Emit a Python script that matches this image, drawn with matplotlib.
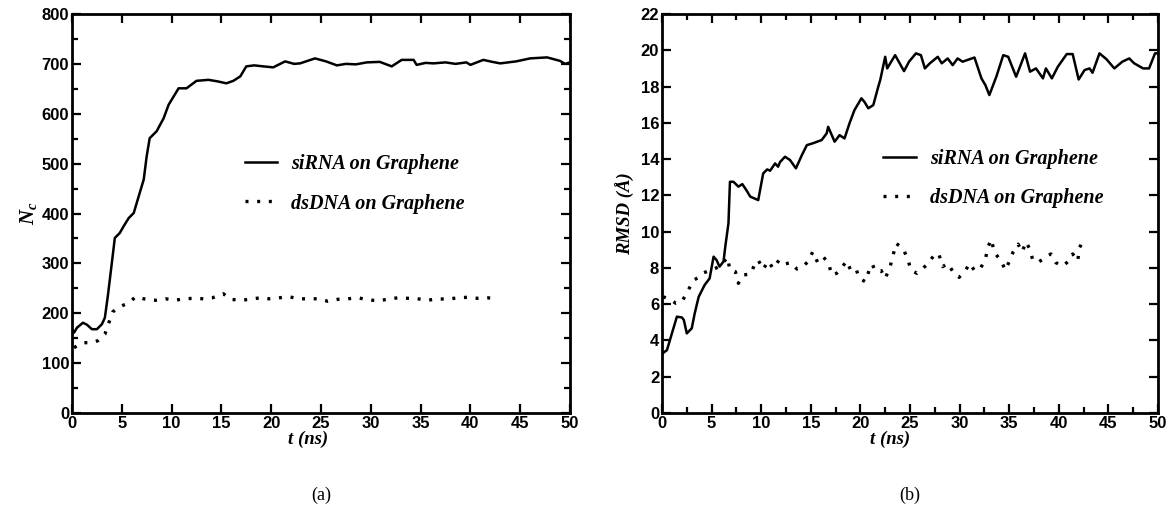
import matplotlib
matplotlib.use("Agg")
import matplotlib.pyplot as plt
from matplotlib.ticker import MultipleLocator
from matplotlib.font_manager import FontProperties

# ---------------- data ----------------
# (a) number of contacts N_c vs t (ns)
t_nc_sirna = [0.0, 0.2, 0.5, 1.1, 1.5, 2.0, 2.5, 3.0, 3.3, 3.6, 4.0, 4.3, 4.8, 5.2, 5.7, 6.2, 6.6,
              7.2, 7.5, 7.8, 8.5, 9.2, 9.7, 10.7, 11.5, 12.5, 13.7, 14.6, 15.5, 16.2, 16.9, 17.5,
              18.3, 19.2, 20.2, 21.4, 22.3, 22.9, 24.4, 25.5, 26.6, 27.5, 28.5, 29.6, 30.9, 32.1,
              33.1, 34.3, 34.6, 35.5, 36.3, 37.5, 38.5, 39.6, 40.0, 41.3, 42.2, 43.0, 44.6, 46.0,
              47.7, 49.0, 49.5, 50.0]
nc_sirna = [168, 161, 171, 181, 177, 168, 168, 178, 191, 235, 301, 351, 361, 375, 391, 401, 428,
            468, 515, 551, 565, 591, 618, 651, 651, 666, 668, 665, 661, 666, 675, 695,
            697, 695, 693, 705, 700, 701, 711, 705, 697, 700, 699, 703, 704, 695,
            708, 708, 698, 702, 701, 703, 700, 703, 698, 708, 704, 701, 705, 711,
            713, 706, 700, 703]

t_nc_dsdna = [0.2, 1.1, 2.0, 2.6, 3.3, 3.7, 4.1, 4.8, 5.7, 6.4, 7.4, 8.4, 9.4, 10.3, 11.3, 12.3,
              13.2, 14.1, 15.2, 15.9, 16.9, 17.9, 18.9, 19.8, 20.8, 21.8, 22.8, 23.7, 24.7, 25.7,
              26.7, 27.7, 28.7, 29.7, 30.7, 31.7, 32.7, 33.7, 34.7, 35.7, 36.7, 37.7, 38.7, 39.7,
              40.7, 41.7, 42.7]
nc_dsdna = [131, 141, 141, 145, 158, 181, 203, 213, 221, 233, 228, 226, 229, 226, 229, 230,
            229, 231, 239, 228, 226, 228, 231, 229, 231, 233, 229, 229, 229, 224,
            228, 229, 231, 227, 225, 228, 231, 230, 229, 226, 229, 228, 231, 232,
            230, 231, 229]

# (b) RMSD (Angstrom) vs t (ns)
t_rmsd_sirna = [0.07, 0.5, 1.0, 1.5, 2.0, 2.2, 2.5, 3.0, 3.3, 3.7, 4.3, 4.8, 5.2, 5.5, 5.8, 6.2,
                6.4, 6.7, 6.85, 7.2, 7.7, 8.1, 8.5, 8.9, 9.7, 10.2, 10.6, 10.9, 11.4, 11.7, 11.9,
                12.4, 12.9, 13.5, 14.1, 14.6, 15.2, 16.1, 16.6, 16.75, 17.4, 17.9, 18.4, 18.9,
                19.4, 20.1, 20.4, 20.8, 21.3, 21.8, 22.0, 22.5, 22.7, 23.5, 24.4, 24.9, 25.6,
                26.1, 26.5, 27.0, 27.8, 28.2, 28.8, 29.3, 29.8, 30.3, 31.5, 32.2, 32.6, 33.0,
                33.7, 34.4, 34.9, 35.7, 36.6, 37.1, 37.7, 38.4, 38.7, 39.3, 39.9, 40.8, 41.4,
                42.0, 42.6, 43.1, 43.4, 44.1, 44.8, 45.6, 46.4, 47.1, 47.6, 48.5, 49.1, 49.7, 50.0]
rmsd_sirna = [3.29, 3.47, 4.39, 5.31, 5.27, 5.13, 4.39, 4.67, 5.5, 6.41, 7.06, 7.42, 8.62, 8.43,
              8.07, 8.35, 9.26, 10.46, 12.75, 12.75, 12.48, 12.62, 12.29, 11.93, 11.74, 13.21,
              13.43, 13.36, 13.76, 13.58, 13.84, 14.13, 13.95, 13.49, 14.22, 14.77, 14.87,
              15.05, 15.42, 15.78, 14.96, 15.32, 15.14, 15.97, 16.7, 17.35, 17.16, 16.8, 16.98,
              17.99, 18.36, 19.64, 19.0, 19.73, 18.85, 19.37, 19.83, 19.73, 19.0, 19.28, 19.64,
              19.28, 19.55, 19.18, 19.55, 19.37, 19.6, 18.45, 18.08, 17.53, 18.54, 19.73,
              19.64, 18.54, 19.83, 18.82, 19.0, 18.45, 19.0, 18.45, 19.09, 19.79, 19.79,
              18.39, 18.91, 19.0, 18.76, 19.83, 19.51, 19.0, 19.37, 19.55, 19.28, 19.0, 19.0,
              19.83, 19.83]

t_rmsd_dsdna = [0.1, 0.8, 1.4, 2.0, 2.65, 3.2, 3.8, 4.2, 5.0, 5.8, 6.6, 6.85, 7.4, 7.7, 8.2, 8.9,
                9.4, 9.7, 10.2, 10.7, 11.2, 11.8, 12.3, 13.0, 13.6, 14.2, 14.7, 15.2, 15.7, 16.3,
                16.8, 17.1, 17.6, 18.0, 18.6, 19.1, 19.6, 19.9, 20.5, 20.9, 21.2, 21.5, 22.1,
                22.5, 23.0, 23.3, 23.6, 24.3, 24.8, 25.1, 25.7, 26.2, 26.9, 27.5, 27.9, 28.3,
                28.8, 29.4, 29.95, 30.6, 31.0, 31.5, 32.0, 32.6, 32.8, 33.2, 33.5, 33.9, 34.2,
                34.6, 35.0, 35.4, 35.9, 36.3, 36.7, 37.1, 37.4, 38.0, 38.6, 39.2, 39.7, 40.4,
                41.0, 41.4, 41.9, 42.1, 42.4, 42.6]
rmsd_dsdna = [6.41, 6.27, 6.05, 6.13, 6.78, 7.33, 7.51, 7.73, 7.9, 8.07, 8.58, 7.88, 7.79, 7.15,
              7.61, 7.66, 8.25, 8.43, 7.92, 8.38, 7.97, 8.43, 8.21, 8.29, 7.94, 8.07, 8.34,
              8.89, 8.29, 8.58, 8.25, 7.61, 7.7, 7.92, 8.38, 7.79, 7.88, 7.42, 7.24, 7.9, 8.2,
              7.83, 7.85, 7.42, 8.07, 8.71, 9.35, 9.08, 8.43, 7.88, 7.7, 7.92, 8.29, 8.77,
              8.77, 8.07, 8.25, 7.73, 7.48, 7.86, 8.25, 7.86, 7.9, 8.43, 9.08, 9.57, 8.86,
              8.58, 8.38, 7.88, 8.34, 8.88, 9.31, 8.88, 9.44, 9.0, 8.38, 8.34, 8.55, 8.77,
              8.29, 8.1, 8.38, 8.77, 8.38, 9.13, 9.44, 9.5]

labels = ["siRNA on Graphene", "dsDNA on Graphene"]
panel_tags = ["(a)", "(b)"]

# ---------------- style ----------------
plt.rcParams["mathtext.fontset"] = "custom"
plt.rcParams["mathtext.it"] = "Liberation Serif:italic:bold"
plt.rcParams["mathtext.rm"] = "Liberation Serif:bold"

tick_font = dict(family="Liberation Sans", weight="bold", size=12)
label_font = dict(family="Liberation Serif", style="italic", weight="bold", size=13.5)
legend_font = dict(family="Liberation Serif", style="italic", weight="bold", size=14.5)

dot_style = (0, (0.9, 2.6))

fig = plt.figure(figsize=(11.73, 5.23), dpi=100)
axA = fig.add_axes([72 / 1173, 1 - 413 / 523, 498 / 1173, 399 / 523])
axB = fig.add_axes([662 / 1173, 1 - 413 / 523, 496 / 1173, 399 / 523])


def style_axes(ax, xminor, ymajor, yminor):
    for s in ax.spines.values():
        s.set_linewidth(2.0)
    ax.set_xlim(0, 50)
    ax.xaxis.set_major_locator(MultipleLocator(5))
    if xminor:
        ax.xaxis.set_minor_locator(MultipleLocator(xminor))
    ax.yaxis.set_major_locator(MultipleLocator(ymajor))
    if yminor:
        ax.yaxis.set_minor_locator(MultipleLocator(yminor))
    ax.tick_params(which="both", direction="in", top=True, right=True, width=1.6, pad=2)
    ax.tick_params(which="major", length=6.5)
    ax.tick_params(which="minor", length=4)
    for lab in ax.get_xticklabels() + ax.get_yticklabels():
        lab.set_fontproperties(FontProperties(**tick_font))


# panel (a)
axA.plot(t_nc_sirna, nc_sirna, color="black", lw=1.8, label=labels[0])
axA.plot(t_nc_dsdna, nc_dsdna, color="black", lw=2.4, linestyle=dot_style, label=labels[1])
axA.set_ylim(0, 800)
style_axes(axA, None, 100, 50)
axA.set_xlabel("t (ns)", labelpad=1, **label_font)
axA.xaxis.set_label_coords(0.475, -0.045)
axA.set_ylabel(r"$N_c$", fontsize=15, labelpad=2)
axA.legend(loc="center left", bbox_to_anchor=(0.31, 0.574), frameon=False,
           handlelength=1.6, handletextpad=0.7, labelspacing=0.95,
           prop=FontProperties(**legend_font))

# panel (b)
axB.plot(t_rmsd_sirna, rmsd_sirna, color="black", lw=1.8, label=labels[0])
axB.plot(t_rmsd_dsdna, rmsd_dsdna, color="black", lw=2.4, linestyle=dot_style, label=labels[1])
axB.set_ylim(0, 22)
style_axes(axB, 2.5, 2, None)
axB.set_xlabel("t (ns)", labelpad=1, **label_font)
axB.xaxis.set_label_coords(0.46, -0.045)
axB.set_ylabel("RMSD (\u00c5)", labelpad=4, **label_font)
axB.legend(loc="center left", bbox_to_anchor=(0.41, 0.588), frameon=False,
           handlelength=1.6, handletextpad=0.7, labelspacing=0.95,
           prop=FontProperties(**legend_font))

for ax, tag in zip([axA, axB], panel_tags):
    pos = ax.get_position()
    fig.text(pos.x0 + pos.width / 2, 1 - 495 / 523, tag, ha="center", va="center",
             family="Liberation Serif", size=13)

fig.savefig("out.png", dpi=100)
